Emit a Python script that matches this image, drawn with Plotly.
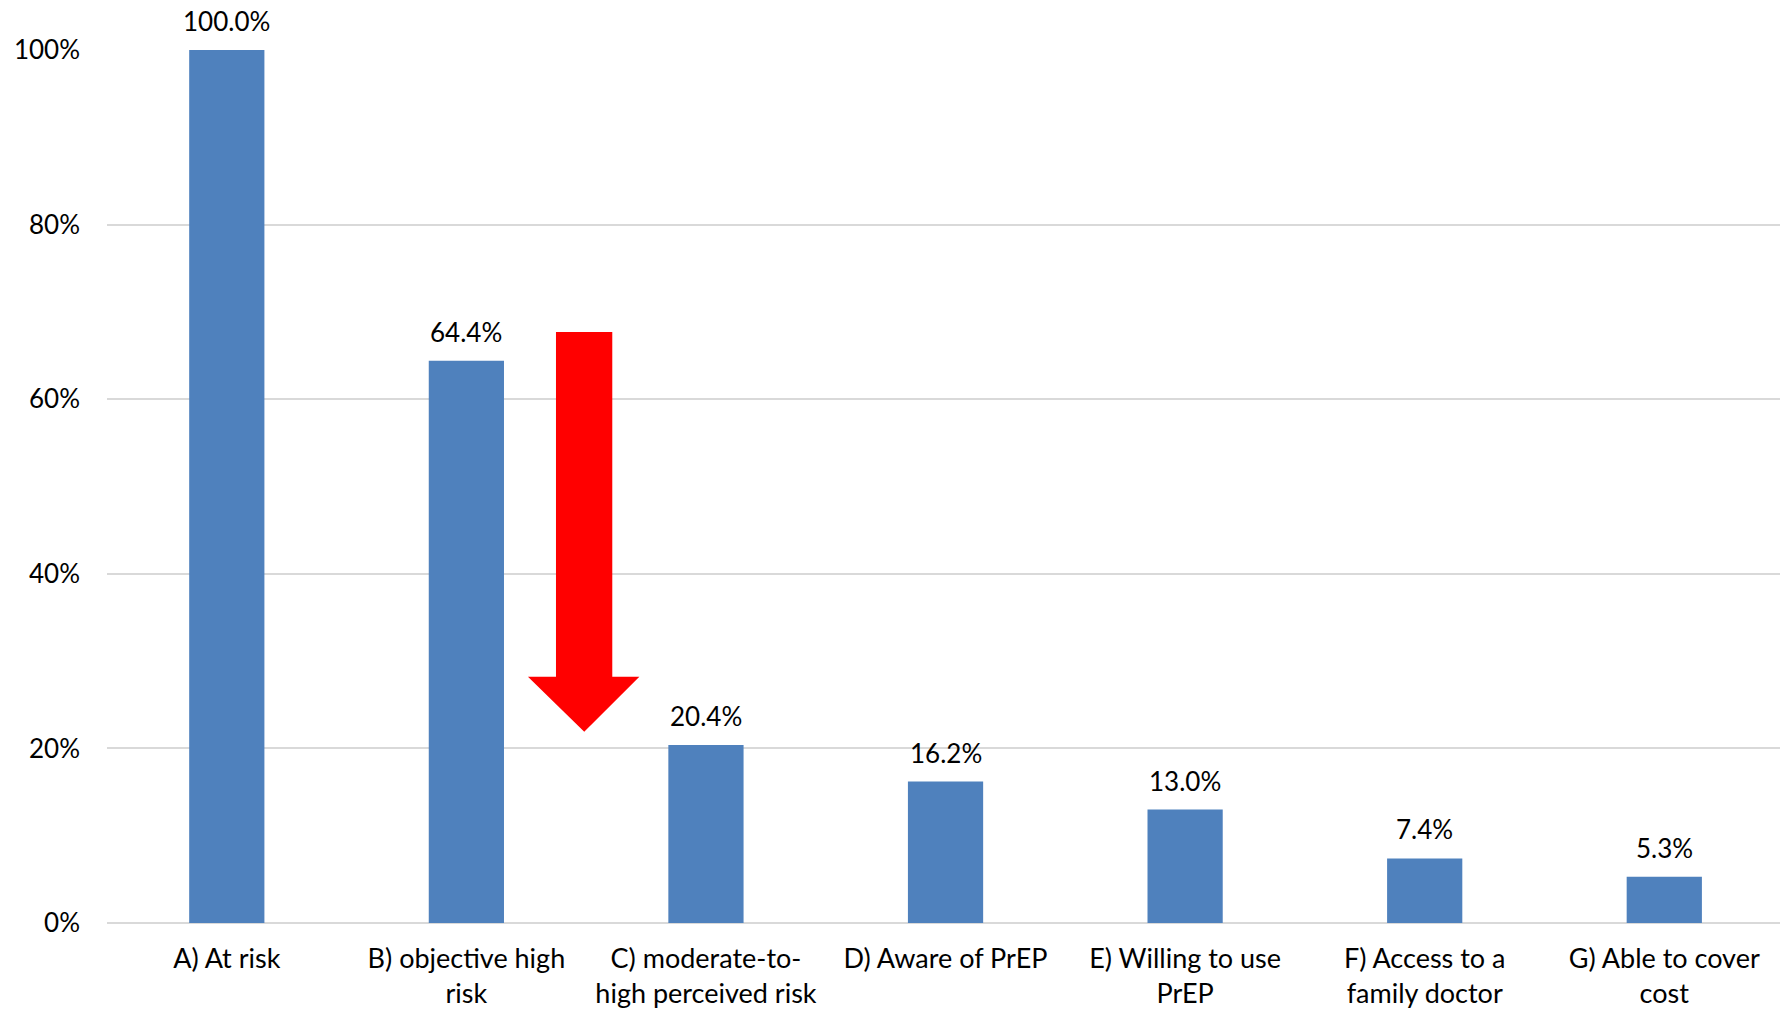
import plotly.graph_objects as go

categories = ["A) At risk", "B) objective high<br>risk", "C) moderate-to-<br>high perceived risk",
              "D) Aware of PrEP", "E) Willing to use<br>PrEP", "F) Access to a<br>family doctor",
              "G) Able to cover<br>cost"]
values = [100.0, 64.4, 20.4, 16.2, 13.0, 7.4, 5.3]
y_ticks = [0, 20, 40, 60, 80, 100]
y_ticklabels = ["0%", "20%", "40%", "60%", "80%", "100%"]

# arrow between B and C (category-index x, percent y)
arrow_x = [1.374, 1.609, 1.609, 1.722, 1.492, 1.257, 1.374]
arrow_y = [67.7, 67.7, 28.2, 28.2, 21.9, 28.2, 28.2]

FONT = "Lato, 'Open Sans', sans-serif"

fig = go.Figure()
fig.add_trace(go.Bar(x=list(range(len(categories))), y=values, marker_color="#4f81bd",
                     marker_line_width=0, width=0.314, hoverinfo="skip"))

path = "M " + " L ".join(f"{x},{y}" for x, y in zip(arrow_x, arrow_y)) + " Z"
fig.add_shape(type="path", path=path, xref="x", yref="y", fillcolor="#ff0000",
              line_width=0, layer="above")

for i, v in enumerate(values):
    fig.add_annotation(x=i, y=v, text=f"{v:.1f}%", showarrow=False, yanchor="bottom",
                       yshift=11, font=dict(size=26, color="#000000", family=FONT))

fig.update_layout(
    width=1780, height=1013,
    margin=dict(l=107, r=0, t=50, b=90),
    plot_bgcolor="white", paper_bgcolor="white",
    showlegend=False,
    font=dict(family=FONT, size=26, color="#000000"),
    xaxis=dict(tickmode="array", tickvals=list(range(len(categories))), ticktext=categories,
               range=[-0.5, 6.483], showgrid=False, zeroline=False,
               showline=False, ticks="", ticklabelstandoff=17, automargin=False,
               tickfont=dict(size=27)),
    yaxis=dict(range=[0, 100], tickmode="array", tickvals=y_ticks, ticktext=y_ticklabels,
               showgrid=True, gridcolor="#d9d9d9", gridwidth=2, zeroline=True,
               zerolinecolor="#d9d9d9", zerolinewidth=2, showline=False, ticks="",
               ticklabelstandoff=26, automargin=False, tickfont=dict(size=26)),
)

fig.write_html("out.html")
